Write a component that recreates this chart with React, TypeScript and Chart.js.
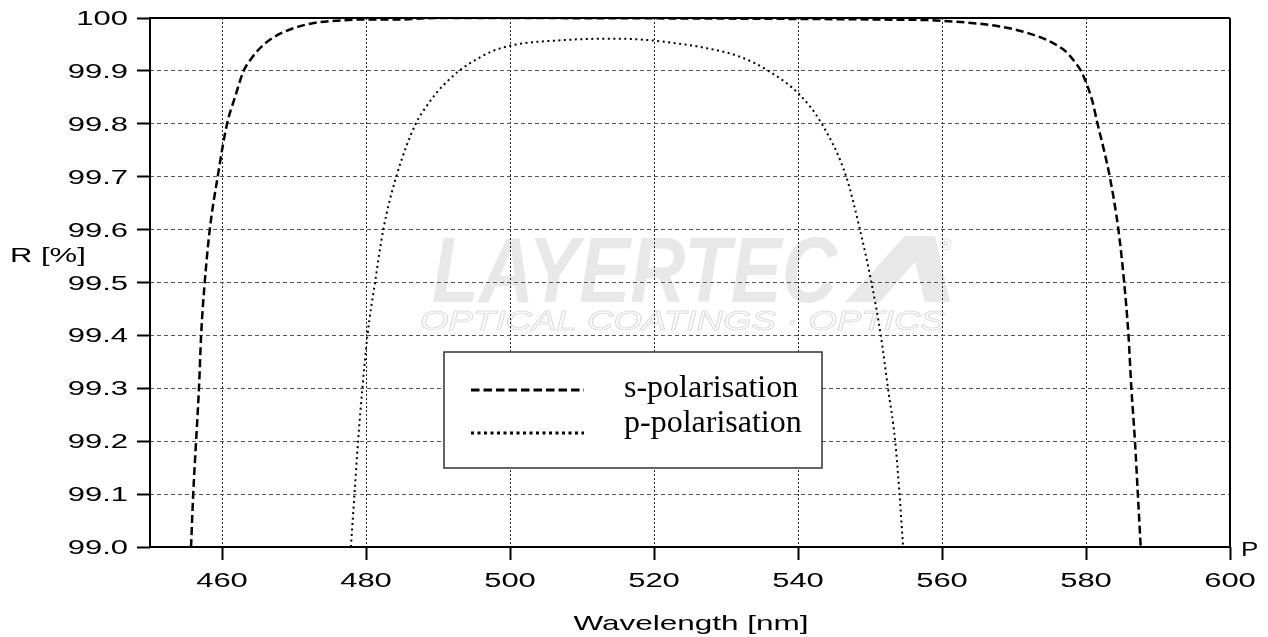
import React, { useEffect, useRef } from "react";
import { Chart, registerables } from "chart.js";

Chart.register(...registerables);

const sWavelength = [
  455.7, 456.0, 456.4, 456.8, 457.1, 457.6, 458.3, 459.4, 460.7, 461.8, 463.0, 464.0, 465.0, 466.0, 467.0,
  468.5, 470.0, 471.5, 473.5, 476.0, 479.0, 484.0, 490.0, 543.0, 552.0, 558.0, 562.0, 565.3, 568.0, 570.5,
  572.5, 574.3, 575.9, 577.0, 577.8, 578.6, 579.3, 580.1, 580.9, 581.6, 582.5, 583.3, 584.5, 585.3, 585.9,
  586.3, 586.8, 587.2, 587.6,
];
const sReflectance = [
  99.0, 99.1, 99.2, 99.3, 99.4, 99.5, 99.6, 99.7, 99.8, 99.85, 99.9, 99.922, 99.939, 99.952, 99.962,
  99.973, 99.981, 99.987, 99.992, 99.995, 99.997, 99.997, 100.0, 99.998, 99.997, 99.996, 99.993, 99.989, 99.984, 99.977,
  99.969, 99.96, 99.949, 99.939, 99.928, 99.914, 99.9, 99.875, 99.842, 99.8, 99.75, 99.7, 99.6, 99.5, 99.4,
  99.3, 99.2, 99.1, 99.0,
];
const pWavelength = [
  477.9, 478.4, 478.9, 479.5, 480.2, 481.25, 482.4, 484.2, 486.9, 488.5, 490.0, 491.5, 493.0, 494.5, 496.0,
  497.5, 499.0, 500.5, 503.0, 506.0, 510.0, 515.0, 518.5, 522.7, 527.3, 531.9, 535.9, 540.3, 543.3, 546.7,
  548.6, 550.2, 551.5, 552.5, 553.5, 554.1, 554.6,
];
const pReflectance = [
  99.0, 99.1, 99.2, 99.3, 99.4, 99.5, 99.6, 99.7, 99.8, 99.835, 99.862, 99.883, 99.901, 99.915, 99.927,
  99.937, 99.944, 99.949, 99.954, 99.957, 99.96, 99.961, 99.959, 99.953, 99.943, 99.927, 99.9, 99.854, 99.8, 99.7,
  99.6, 99.5, 99.4, 99.3, 99.2, 99.1, 99.0,
];

const xTickValues = [460, 480, 500, 520, 540, 560, 580, 600];
const xTickLabels = ["460", "480", "500", "520", "540", "560", "580", "600"];
const yTickValues = [99.0, 99.1, 99.2, 99.3, 99.4, 99.5, 99.6, 99.7, 99.8, 99.9, 100];
const yTickLabels = ["99.0", "99.1", "99.2", "99.3", "99.4", "99.5", "99.6", "99.7", "99.8", "99.9", "100"];
const seriesLabels = ["s-polarisation", "p-polarisation"];
const xTitle = "Wavelength [nm]";
const yTitle = "R [%]";
const cornerMark = "P";
const watermarkMain = "LAYERTEC";
const watermarkSub = "OPTICAL COATINGS · OPTICS";

const SANS = "'Liberation Sans', Arial, sans-serif";
const SERIF = "'Liberation Serif', 'Times New Roman', serif";

function drawText(
  ctx: CanvasRenderingContext2D,
  text: string,
  x: number,
  y: number,
  font: string,
  sx: number,
  align: CanvasTextAlign,
  color = "#000"
) {
  ctx.save();
  ctx.font = font;
  ctx.fillStyle = color;
  ctx.textAlign = align;
  ctx.textBaseline = "alphabetic";
  ctx.translate(x, y);
  ctx.scale(sx, 1);
  ctx.fillText(text, 0, 0);
  ctx.restore();
}

export default function App() {
  const ref = useRef<HTMLCanvasElement>(null);

  useEffect(() => {
    document.body.style.margin = "0";
    const canvas = ref.current;
    if (!canvas) return;

    const decor = {
      id: "decor",
      beforeDraw(chart: any) {
        const ctx: CanvasRenderingContext2D = chart.ctx;
        ctx.save();
        ctx.fillStyle = "#fff";
        ctx.fillRect(0, 0, chart.width, chart.height);
        // watermark
        ctx.font = `italic bold 92px ${SANS}`;
        const w = ctx.measureText(watermarkMain).width;
        ctx.translate(432, 302);
        ctx.scale(405 / w, 1);
        ctx.fillStyle = "#e8e8e8";
        ctx.fillText(watermarkMain, 0, 0);
        ctx.restore();
        ctx.save();
        ctx.fillStyle = "#e8e8e8";
        ctx.beginPath();
        ctx.moveTo(845, 302);
        ctx.lineTo(905, 236);
        ctx.lineTo(935, 236);
        ctx.lineTo(950, 302);
        ctx.lineTo(925, 302);
        ctx.lineTo(915, 262);
        ctx.lineTo(880, 302);
        ctx.closePath();
        ctx.fill();
        ctx.font = `italic 28px ${SANS}`;
        const w2 = ctx.measureText(watermarkSub).width;
        ctx.translate(420, 330);
        ctx.scale(525 / w2, 1);
        ctx.strokeStyle = "#dedede";
        ctx.lineWidth = 1;
        ctx.strokeText(watermarkSub, 0, 0);
        ctx.restore();
        drawText(ctx, "®", 940, 250, `16px ${SANS}`, 1, "left", "#dedede");
      },
      afterDatasetsDraw(chart: any) {
        const ctx: CanvasRenderingContext2D = chart.ctx;
        const a = chart.chartArea;
        // frame
        ctx.save();
        ctx.strokeStyle = "#000";
        ctx.lineWidth = 2;
        ctx.setLineDash([]);
        ctx.beginPath();
        ctx.moveTo(a.left, a.top);
        ctx.lineTo(a.right, a.top);
        ctx.moveTo(a.right, a.top);
        ctx.lineTo(a.right, a.bottom);
        ctx.moveTo(a.left, a.top - 1);
        ctx.lineTo(a.left, a.bottom);
        ctx.moveTo(a.left, a.bottom);
        ctx.lineTo(a.right + 1, a.bottom);
        ctx.stroke();
        ctx.restore();

        // legend box
        ctx.save();
        ctx.fillStyle = "#fff";
        ctx.fillRect(444, 352, 378, 116);
        ctx.strokeStyle = "#333";
        ctx.lineWidth = 1.5;
        ctx.strokeRect(444, 352, 378, 116);
        ctx.strokeStyle = "#000";
        ctx.lineWidth = 3;
        ctx.setLineDash([8.5, 4]);
        ctx.beginPath();
        ctx.moveTo(471, 390);
        ctx.lineTo(584, 390);
        ctx.stroke();
        ctx.setLineDash([3, 3.5]);
        ctx.beginPath();
        ctx.moveTo(471, 433);
        ctx.lineTo(584, 433);
        ctx.stroke();
        ctx.restore();
        drawText(ctx, seriesLabels[0], 624, 397, `32px ${SERIF}`, 1, "left");
        drawText(ctx, seriesLabels[1], 624, 432, `32px ${SERIF}`, 1, "left");
      },
      afterDraw(chart: any) {
        const ctx: CanvasRenderingContext2D = chart.ctx;
        const xs = chart.scales.x;
        const ys = chart.scales.y;
        const font = `20px ${SANS}`;
        yTickValues.forEach((v, i) => {
          drawText(ctx, yTickLabels[i], 128, ys.getPixelForValue(v) + 7, font, 1.55, "right");
        });
        xTickValues.forEach((v, i) => {
          drawText(ctx, xTickLabels[i], xs.getPixelForValue(v), 587, font, 1.55, "center");
        });
        drawText(ctx, yTitle, 10, 262, font, 1.55, "left");
        drawText(ctx, xTitle, 691, 630, `21px ${SANS}`, 1.5, "center");
        drawText(ctx, cornerMark, 1241, 556, font, 1.3, "left");
      },
    };

    const chart = new Chart(canvas, {
      type: "line",
      data: {
        datasets: [
          {
            label: seriesLabels[0],
            data: sWavelength.map((x, i) => ({ x, y: sReflectance[i] })),
            borderColor: "#000",
            borderWidth: 2.5,
            borderDash: [8, 4],
            pointRadius: 0,
            fill: false,
            cubicInterpolationMode: "monotone",
          },
          {
            label: seriesLabels[1],
            data: pWavelength.map((x, i) => ({ x, y: pReflectance[i] })),
            borderColor: "#000",
            borderWidth: 2,
            borderDash: [2, 3.5],
            pointRadius: 0,
            fill: false,
            cubicInterpolationMode: "monotone",
          },
        ],
      },
      options: {
        responsive: false,
        animation: false,
        devicePixelRatio: 1,
        layout: { padding: { top: 18, right: 38, left: 0, bottom: 0 } },
        plugins: { legend: { display: false }, tooltip: { enabled: false } },
        scales: {
          x: {
            type: "linear",
            min: 450,
            max: 600,
            afterBuildTicks: (s: any) => {
              s.ticks = xTickValues.map((v) => ({ value: v }));
            },
            afterFit: (s: any) => {
              s.height = 90;
            },
            ticks: { display: false },
            grid: {
              color: "#222",
              lineWidth: 1,
              drawTicks: true,
              tickLength: 13,
              tickWidth: 2,
              tickColor: "#000",
              tickBorderDash: [],
            },
            border: { display: false, dash: [2, 2] },
          },
          y: {
            type: "linear",
            min: 99.0,
            max: 100,
            afterBuildTicks: (s: any) => {
              s.ticks = yTickValues.map((v) => ({ value: v }));
            },
            afterFit: (s: any) => {
              s.width = 150;
            },
            ticks: { display: false, stepSize: 0.1 },
            grid: {
              color: "#555",
              lineWidth: 1,
              drawTicks: true,
              tickLength: 13,
              tickWidth: 2,
              tickColor: "#000",
              tickBorderDash: [],
            },
            border: { display: false, dash: [4, 3] },
          },
        },
      },
      plugins: [decor],
    } as any);

    return () => chart.destroy();
  }, []);

  return (
    <div style={{ width: 1268, height: 637 }}>
      <canvas ref={ref} width={1268} height={637} style={{ display: "block" }} />
    </div>
  );
}
